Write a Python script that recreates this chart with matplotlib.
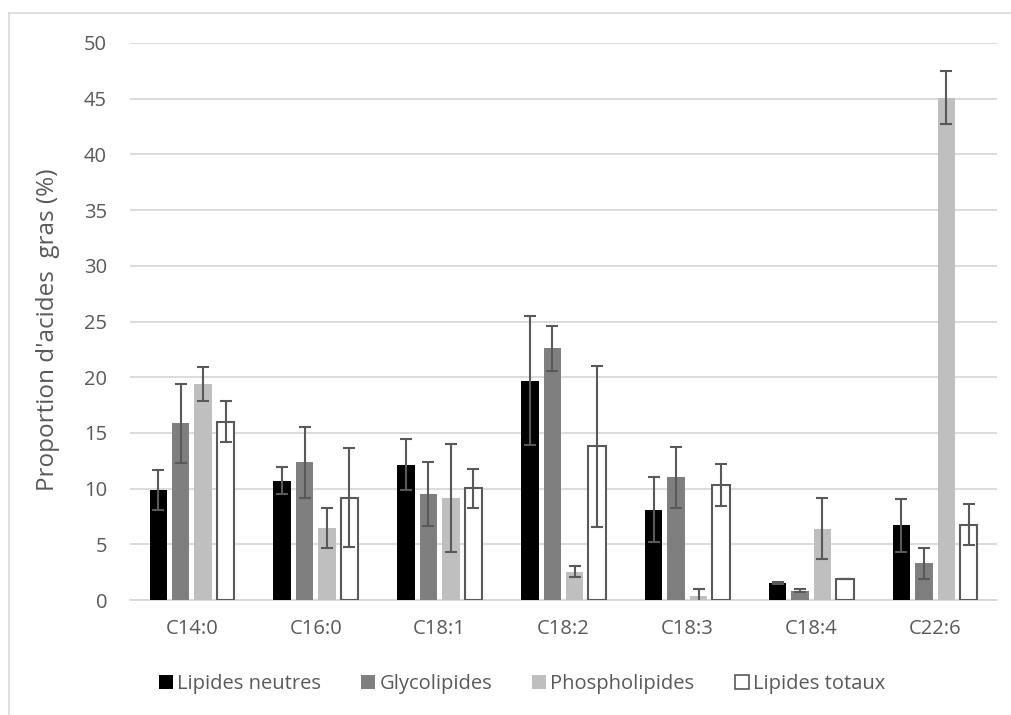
import matplotlib
matplotlib.use("Agg")
import matplotlib.pyplot as plt
import numpy as np
from matplotlib.patches import Rectangle
from matplotlib.lines import Line2D

categories = ["C14:0", "C16:0", "C18:1", "C18:2", "C18:3", "C18:4", "C22:6"]
series_names = ["Lipides neutres", "Glycolipides", "Phospholipides", "Lipides totaux"]

lipides_neutres = [9.9, 10.7, 12.15, 19.7, 8.1, 1.5, 6.7]
lipides_neutres_err = [1.8, 1.2, 2.3, 5.75, 2.9, 0.1, 2.35]
glycolipides = [15.85, 12.35, 9.5, 22.6, 11.0, 0.85, 3.3]
glycolipides_err = [3.55, 3.2, 2.9, 2.0, 2.7, 0.12, 1.4]
phospholipides = [19.4, 6.5, 9.15, 2.55, 0.35, 6.4, 45.1]
phospholipides_err = [1.5, 1.8, 4.85, 0.5, 0.6, 2.75, 2.4]
lipides_totaux = [16.0, 9.2, 10.05, 13.8, 10.3, 1.85, 6.75]
lipides_totaux_err = [1.85, 4.45, 1.75, 7.25, 1.9, 0.0, 1.85]

values = [lipides_neutres, glycolipides, phospholipides, lipides_totaux]
errors = [lipides_neutres_err, glycolipides_err, phospholipides_err, lipides_totaux_err]
fills = ["#000000", "#7f7f7f", "#bfbfbf", "#ffffff"]
edges = ["#000000", "#7f7f7f", "#bfbfbf", "#595959"]

plt.rcParams['font.family'] = ['Open Sans', 'DejaVu Sans']
text_color = "#595959"
grid_color = "#d9d9d9"
fs = 14.5

fig = plt.figure(figsize=(10.12, 7.15), dpi=100)
ax = fig.add_axes([130/1012, 1 - 600/715, (997-130)/1012, (600-43)/715])

x = np.arange(len(categories))
step = 0.181
width = 0.14
for i, (vals, errs) in enumerate(zip(values, errors)):
    pos = x + (i - 1.5) * step
    lw = 1.5 if i == 3 else 0
    ax.bar(pos, vals, width=width, color=fills[i], edgecolor=edges[i],
           linewidth=lw, zorder=3, label=series_names[i])
    ax.errorbar(pos, vals, yerr=errs, fmt='none', ecolor="#595959",
                elinewidth=1.5, capsize=4.3, capthick=1.5, zorder=4)

ax.set_xlim(-0.5, len(categories) - 0.5)
ax.set_ylim(0, 50)
ax.set_yticks(np.arange(0, 51, 5))
ax.set_xticks(x)
ax.set_xticklabels(categories)
ax.yaxis.grid(True, color=grid_color, linewidth=1.3, zorder=0)
ax.set_axisbelow(True)
for s in ["top", "right", "left"]:
    ax.spines[s].set_visible(False)
ax.spines["bottom"].set_color(grid_color)
ax.spines["bottom"].set_linewidth(1.3)
ax.tick_params(axis='both', length=0, labelsize=fs, colors=text_color)
ax.tick_params(axis='y', pad=16.5)
ax.tick_params(axis='x', pad=14)
ax.set_ylabel("Proportion d'acides  gras (%)", fontsize=17.5, color=text_color)
ax.yaxis.set_label_coords(-70/867, 0.485)

handles = [Rectangle((0, 0), 1, 1, facecolor=fills[i], edgecolor=edges[i],
                     linewidth=1.2 if i == 3 else 0) for i in range(4)]
fig.legend(handles, series_names, loc='center', bbox_to_anchor=(522/1012, 1 - 684/715),
           ncol=4, frameon=False, fontsize=fs, labelcolor=text_color,
           handlelength=0.7, handleheight=0.7, handletextpad=0.2, columnspacing=2.0)

# outer chart border (light)
fig.add_artist(Line2D([9/1012, 9/1012], [0, 1 - 13/715], color=grid_color, linewidth=1.2))
fig.add_artist(Line2D([9/1012, 1], [1 - 13/715, 1 - 13/715], color=grid_color, linewidth=1.2))

fig.savefig("out.png", dpi=100)
